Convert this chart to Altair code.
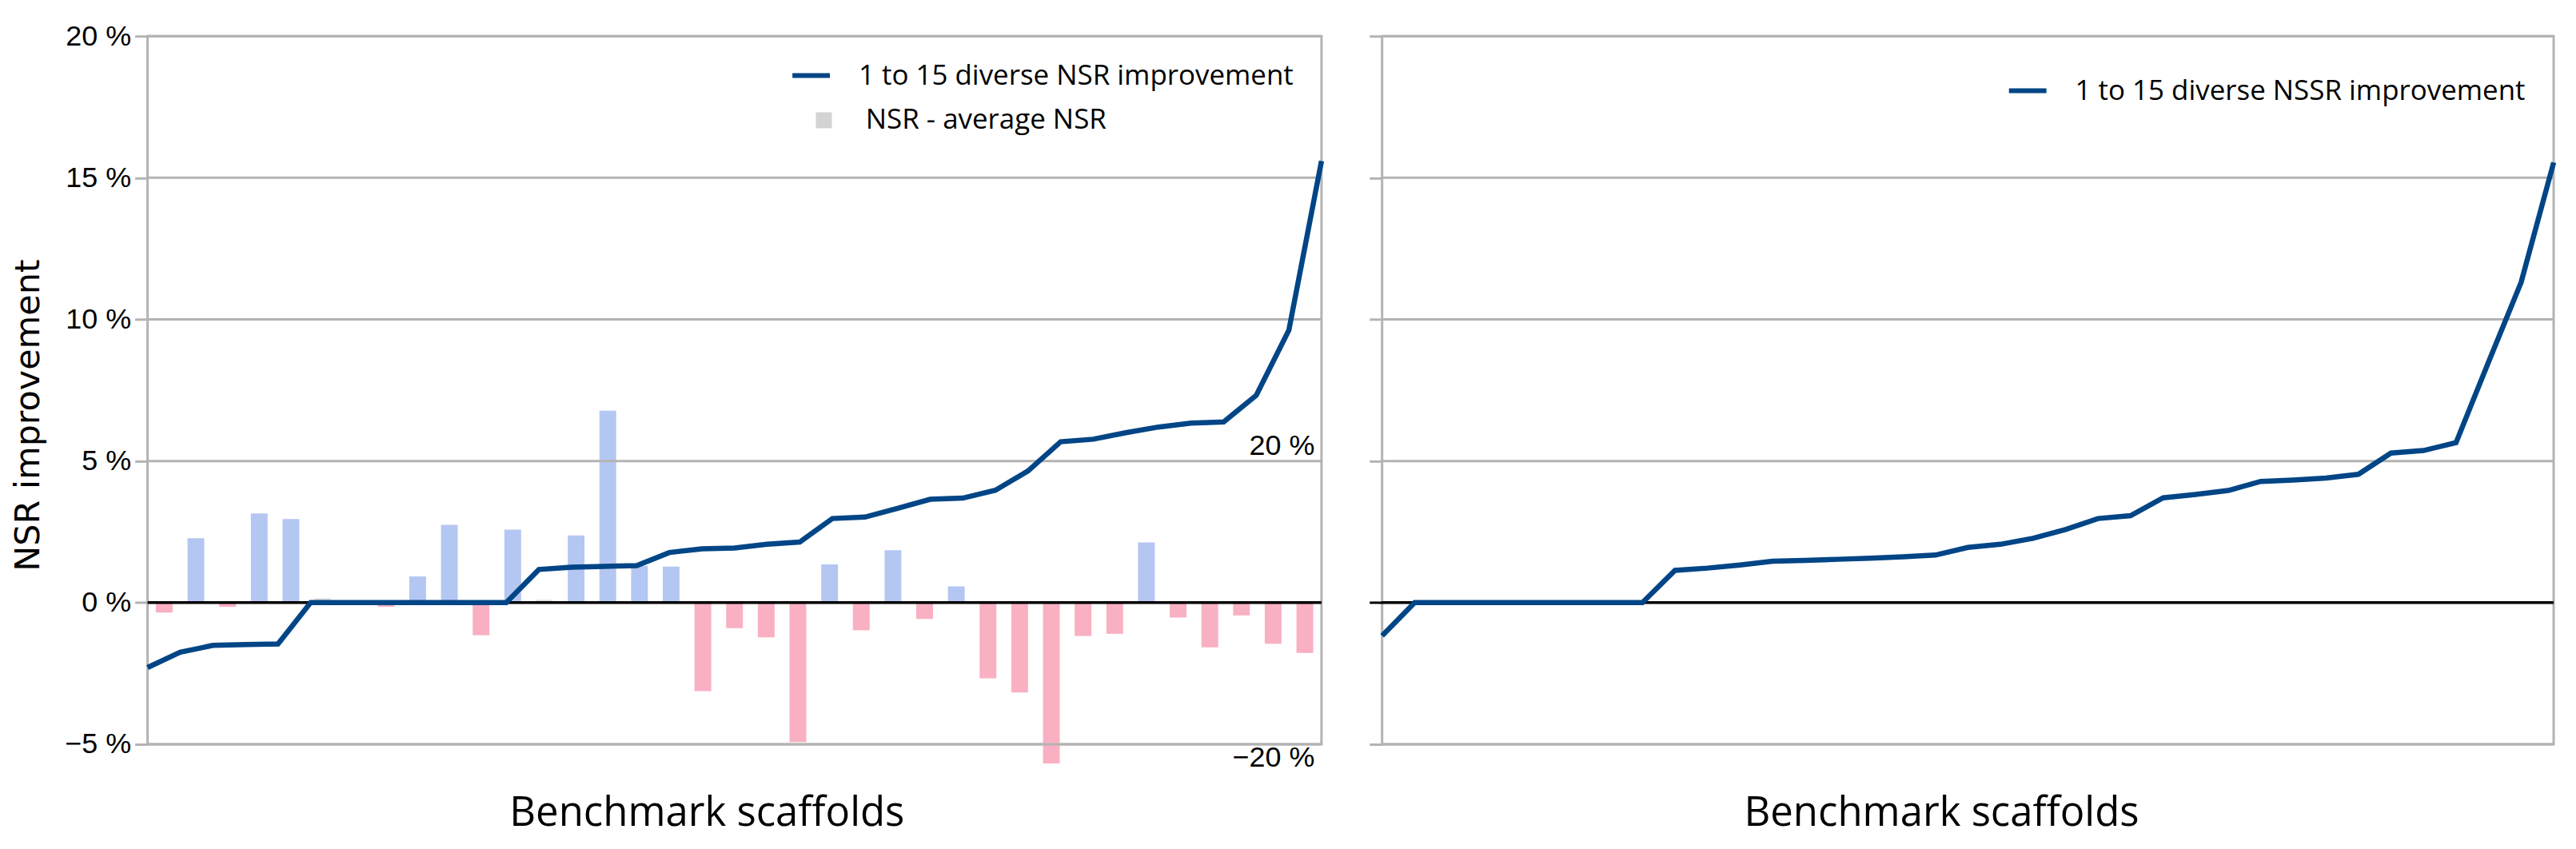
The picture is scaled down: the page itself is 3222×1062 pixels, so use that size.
import altair as alt
import pandas as pd

# ---------------- data ----------------
idx = list(range(37))

# left panel: 1 to 15 diverse NSR improvement (%)
nsr_improvement = [-2.29, -1.75, -1.51, -1.48, -1.46,
                   0, 0, 0, 0, 0, 0, 0,
                   1.17, 1.25, 1.28, 1.31,
                   1.77, 1.90, 1.93, 2.06, 2.14,
                   2.97, 3.02, 3.33, 3.65, 3.69, 3.97, 4.65,
                   5.68, 5.77, 6.00, 6.20, 6.34, 6.38,
                   7.32, 9.62, 15.59]

# left panel bars: NSR - average NSR (%) on secondary axis
nsr_minus_avg = [-1.4, 9.1, -0.6, 12.6, 11.8, 0.6, 0.0, -0.6, 3.7, 11.0,
                 -4.6, 10.3, 0.4, 9.5, 27.1, 5.2, 5.1, -12.5, -3.6, -4.9,
                 -19.7, 5.4, -3.9, 7.4, -2.3, 2.3, -10.7, -12.7, -22.7, -4.7,
                 -4.4, 8.5, -2.1, -6.3, -1.8, -5.8, -7.1]

# right panel: 1 to 15 diverse NSSR improvement (%)
nssr_improvement = [-1.17, 0, 0, 0, 0, 0, 0, 0, 0,
                    1.14, 1.22, 1.33, 1.46, 1.49, 1.53, 1.57, 1.62, 1.68,
                    1.95, 2.06, 2.27, 2.58, 2.97, 3.07,
                    3.70, 3.82, 3.96, 4.28, 4.33, 4.40, 4.53,
                    5.28, 5.37, 5.65, 8.50, 11.31, 15.54]

grid_ticks = [-5, 0, 5, 10, 15, 20]
secondary_ticks = [-20, 20]

series_left = "1 to 15 diverse NSR improvement"
series_bars = "NSR - average NSR"
series_right = "1 to 15 diverse NSSR improvement"
x_title = "Benchmark scaffolds"
y_title = "NSR improvement"

# ---------------- styles ----------------
LINE = "#004586"
BAR_BLUE = "#b4c7f2"
BAR_PINK = "#f9b0c2"
BAR_GRAY = "#dcdcdc"
GRID = "#b3b3b3"
TICK_FONT = "Liberation Sans"
TITLE_FONT = "DejaVu Sans"
TEXT_FONT = "Open Sans"

W_LEFT, W_RIGHT, H = 1472, 1469, 888

bar_df = pd.DataFrame({"i": idx, "d": nsr_minus_avg})
bar_df["fill"] = [BAR_BLUE if v >= 1 else (BAR_PINK if v < 0 else BAR_GRAY)
                  for v in nsr_minus_avg]
bar_df["series"] = series_bars

left_df = pd.DataFrame({"i": idx, "v": nsr_improvement, "series": series_left})
right_df = pd.DataFrame({"i": idx, "v": nssr_improvement, "series": series_right})
grid_df = pd.DataFrame({"v": [t for t in grid_ticks if t != 0]})
zero_df = pd.DataFrame({"v": [0]})

y_scale = alt.Scale(domain=[-5, 20], nice=False, zero=False)
x_scale = alt.Scale(domain=[0, 36], nice=False, zero=False)
bar_x_scale = alt.Scale(domain=[-0.4, 36.4], nice=False, zero=False)
bar_y_scale = alt.Scale(domain=[-20, 80], nice=False, zero=False)

pct_expr = "format(datum.value, 'd') + ' %'"


def y_axis(show_labels):
    kw = dict(values=grid_ticks, domain=False, grid=False,
              tickSize=16, tickWidth=3)
    if show_labels:
        kw.update(tickColor=GRID,
                  labelExpr=pct_expr, labelFont=TICK_FONT, labelFontSize=36,
                  labelColor="black", labelPadding=5,
                  title=y_title, titleFont=TITLE_FONT, titleFontSize=43,
                  titleFontWeight="normal", titleColor="black",
                  titlePadding=23, titleY=475)
    else:
        kw.update(labels=False, title=None,
                  tickColor={"condition": {"test": "datum.value === 0",
                                           "value": "black"},
                             "value": GRID})
    return alt.Axis(**kw)


def x_axis():
    return alt.Axis(title=x_title, labels=False, ticks=False, domain=False,
                    grid=False, titleFont=TEXT_FONT, titleFontSize=51,
                    titleFontWeight="normal", titleColor="black",
                    titlePadding=62, titleX=701)


def line_legend(x, y):
    return alt.Legend(orient="none", legendX=x, legendY=y, title=None,
                      symbolType="stroke", symbolSize=2209,
                      symbolStrokeWidth=6, labelFont=TEXT_FONT,
                      labelFontSize=35, labelColor="black", labelOffset=33,
                      labelLimit=0, padding=0)


def primary_group(df, show_labels, legend):
    ax = y_axis(show_labels)
    grid = alt.Chart(grid_df).mark_rule(color=GRID, strokeWidth=3).encode(
        y=alt.Y("v:Q", scale=y_scale, axis=ax))
    zero = alt.Chart(zero_df).mark_rule(color="black", strokeWidth=3.5).encode(
        y=alt.Y("v:Q", scale=y_scale, axis=ax))
    line = alt.Chart(df).mark_line(strokeWidth=6.5).encode(
        x=alt.X("i:Q", scale=x_scale, axis=x_axis()),
        y=alt.Y("v:Q", scale=y_scale, axis=ax),
        color=alt.Color("series:N", scale=alt.Scale(range=[LINE]),
                        legend=legend))
    return alt.layer(grid, zero, line)


sec_axis = alt.Axis(orient="right", values=secondary_ticks,
                    labelExpr=pct_expr, labelFont=TICK_FONT, labelFontSize=36,
                    labelColor="black", labelAlign="right", labelPadding=-9,
                    labelBaseline={"condition": {"test": "datum.value > 0",
                                                 "value": "bottom"},
                                   "value": "top"},
                    ticks=False, tickSize=0, domain=False, grid=False,
                    title=None, labelOverlap=False)

bars = alt.Chart(bar_df).mark_bar(width=21, orient="vertical").encode(
    x=alt.X("i:Q", scale=bar_x_scale, axis=None),
    y=alt.Y("d:Q", scale=bar_y_scale, axis=sec_axis),
    y2=alt.Y2(datum=0),
    fill=alt.Fill("fill:N", scale=None),
    opacity=alt.Opacity("series:N", scale=alt.Scale(range=[1, 1]),
                        legend=alt.Legend(orient="none", legendX=830.5,
                                          legendY=88, title=None,
                                          symbolType="square", symbolSize=400,
                                          symbolFillColor="#d3d3d3",
                                          symbolStrokeWidth=0,
                                          labelFont=TEXT_FONT, labelFontSize=35,
                                          labelColor="black", labelOffset=35,
                                          labelLimit=0, padding=0)),
)

left = alt.layer(
    bars,
    primary_group(left_df, True, line_legend(805.6, 23)),
).resolve_scale(y="independent", x="independent").properties(
    width=W_LEFT, height=H)

right = primary_group(right_df, False, line_legend(783, 42)).properties(
    width=W_RIGHT, height=H)

chart = alt.hconcat(left, right, spacing=42).resolve_scale(
    x="independent", y="independent", color="independent",
    opacity="independent").configure_view(
    stroke=GRID, strokeWidth=3).properties(
    background="white", padding={"left": 5, "top": 16, "right": 5, "bottom": 5})

chart.save("out.html", embed_options={"renderer": "svg", "actions": False})
